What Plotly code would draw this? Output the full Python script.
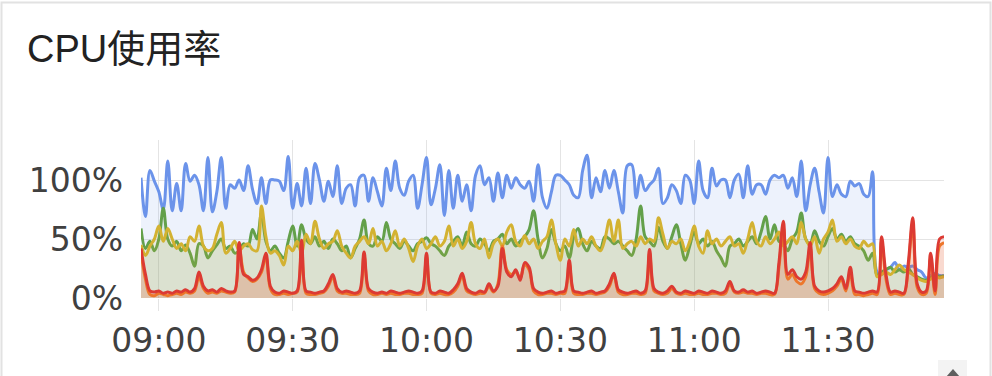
import pandas as pd
import plotly.graph_objects as go

# ---------------- data (1-minute samples, 08:56 -> 11:56) ----------------
start_time = "2024-01-01 08:56"
n_points = 181

blue = [102, 69, 108, 99, 90, 75, 116, 74, 97, 74,
        114, 99, 104, 96, 74, 119, 73, 90, 119, 76,
        96, 93, 100, 91, 112, 92, 80, 102, 80, 100,
        100, 99, 91, 120, 76, 97, 78, 110, 80, 114,
        100, 82, 99, 86, 112, 80, 93, 96, 78, 102,
        104, 82, 102, 90, 78, 110, 91, 116, 93, 87,
        99, 104, 76, 96, 119, 79, 93, 113, 70, 108,
        76, 104, 82, 96, 74, 104, 112, 96, 102, 82,
        106, 85, 104, 93, 102, 96, 93, 99, 82, 113,
        85, 76, 90, 104, 104, 100, 96, 87, 85, 108,
        121, 85, 102, 90, 108, 93, 108, 90, 72, 112,
        113, 85, 104, 91, 96, 100, 110, 80, 85, 96,
        91, 80, 104, 100, 80, 116, 91, 85, 110, 95,
        100, 100, 85, 100, 105, 85, 112, 88, 96, 96,
        88, 100, 104, 102, 104, 93, 102, 86, 116, 74,
        96, 110, 90, 72, 119, 86, 96, 88, 86, 99,
        95, 97, 88, 86, 107, 22, 20, 24, 26, 30,
        24, 27, 26, 27, 24, 22, 17, 19, 21, 19,
        19]

green = [59, 42, 48, 40, 50, 76, 50, 44, 48, 40,
         45, 38, 27, 46, 44, 34, 40, 45, 50, 42,
         44, 38, 40, 46, 44, 58, 50, 72, 48, 40,
         44, 38, 34, 48, 61, 44, 62, 50, 46, 52,
         44, 48, 42, 50, 46, 40, 44, 34, 42, 50,
         66, 46, 44, 52, 48, 64, 50, 46, 42, 48,
         44, 40, 46, 48, 51, 46, 44, 40, 36, 44,
         48, 52, 44, 56, 46, 44, 50, 46, 40, 48,
         50, 54, 46, 50, 44, 48, 52, 58, 74, 50,
         34, 42, 58, 46, 40, 44, 34, 52, 59, 46,
         40, 48, 44, 42, 52, 50, 46, 48, 44, 40,
         36, 50, 78, 52, 48, 44, 60, 48, 42, 52,
         62, 46, 32, 44, 56, 46, 50, 44, 48, 40,
         34, 27, 44, 46, 50, 44, 48, 52, 46, 56,
         69, 50, 62, 48, 46, 40, 50, 56, 72, 50,
         46, 57, 48, 44, 52, 59, 50, 54, 48, 52,
         46, 44, 40, 32, 38, 19, 22, 24, 26, 22,
         24, 22, 25, 20, 18, 16, 15, 17, 20, 18,
         19]

yellow = [45, 36, 44, 50, 61, 48, 59, 50, 42, 46,
          40, 52, 48, 61, 44, 40, 42, 54, 64, 38,
          42, 48, 40, 44, 46, 41, 40, 78, 52, 38,
          40, 36, 28, 44, 40, 48, 38, 54, 46, 65,
          50, 42, 46, 48, 57, 44, 38, 34, 44, 48,
          52, 46, 59, 44, 48, 40, 46, 57, 44, 50,
          42, 31, 44, 50, 42, 46, 52, 44, 48, 61,
          44, 50, 42, 48, 64, 46, 42, 50, 34, 46,
          50, 44, 56, 62, 48, 44, 53, 46, 50, 42,
          48, 52, 66, 46, 32, 50, 44, 58, 44, 50,
          46, 52, 44, 40, 50, 66, 48, 66, 42, 46,
          48, 44, 52, 46, 50, 48, 68, 54, 42, 48,
          46, 50, 40, 48, 61, 44, 38, 57, 46, 50,
          44, 48, 52, 44, 46, 38, 50, 64, 48, 44,
          52, 46, 50, 56, 44, 48, 52, 46, 64, 50,
          44, 52, 38, 50, 56, 66, 48, 52, 46, 50,
          44, 42, 48, 44, 46, 18, 20, 22, 20, 24,
          28, 24, 22, 20, 17, 15, 14, 16, 18, 17,
          18]

orange = [38, 16, 3, 2, 4, 3, 2, 3, 4, 3,
          5, 4, 6, 18, 8, 4, 5, 4, 6, 5,
          4, 5, 44, 22, 17, 14, 16, 22, 35, 8,
          3, 3, 4, 3, 4, 5, 46, 4, 3, 3,
          4, 5, 10, 18, 6, 4, 4, 3, 3, 4,
          36, 6, 3, 3, 4, 3, 4, 3, 3, 4,
          4, 3, 3, 4, 35, 4, 3, 4, 3, 3,
          5, 10, 19, 6, 4, 3, 4, 4, 10, 5,
          12, 44, 24, 20, 22, 17, 28, 24, 6, 3,
          3, 4, 4, 3, 4, 4, 29, 4, 3, 3,
          4, 4, 3, 4, 5, 10, 20, 5, 3, 3,
          4, 4, 3, 4, 38, 6, 4, 3, 4, 8,
          4, 3, 4, 3, 3, 4, 3, 3, 4, 4,
          3, 4, 12, 5, 4, 5, 4, 4, 3, 4,
          4, 3, 3, 26, 60, 16, 20, 14, 12, 18,
          43, 8, 4, 3, 4, 6, 10, 16, 6, 22,
          3, 3, 2, 3, 4, 3, 48, 16, 3, 4,
          3, 3, 26, 64, 9, 3, 4, 34, 3, 44,
          47]

red = [42, 20, 6, 5, 6, 4, 5, 4, 6, 5,
       7, 5, 8, 22, 10, 6, 7, 5, 8, 6,
       5, 6, 47, 20, 18, 15, 17, 24, 38, 10,
       5, 4, 6, 5, 4, 6, 49, 6, 5, 4,
       5, 6, 12, 20, 8, 5, 6, 5, 4, 6,
       39, 8, 5, 4, 5, 4, 6, 5, 4, 5,
       6, 5, 4, 6, 38, 5, 4, 6, 5, 4,
       7, 12, 21, 8, 5, 4, 6, 5, 12, 6,
       10, 42, 22, 18, 24, 15, 30, 26, 8, 5,
       4, 5, 6, 4, 5, 6, 32, 6, 5, 4,
       5, 6, 4, 5, 6, 12, 21, 7, 5, 4,
       5, 6, 4, 6, 41, 8, 5, 4, 6, 10,
       5, 4, 6, 5, 4, 6, 5, 4, 6, 5,
       4, 6, 14, 6, 5, 7, 5, 6, 4, 5,
       6, 5, 4, 30, 65, 20, 24, 18, 16, 22,
       47, 10, 6, 5, 6, 8, 12, 18, 8, 26,
       6, 5, 4, 5, 6, 5, 52, 20, 5, 6,
       5, 4, 30, 68, 12, 5, 6, 38, 6, 50,
       52]

y_tick_vals = [0, 50, 100]
y_tick_text = ["0%", "50%", "100%"]
title_text = "CPU使用率"

series = [
    ("blue", blue, "#6b93ea", "rgba(107,147,234,0.12)"),
    ("green", green, "#63a04a", "rgba(99,160,74,0.12)"),
    ("yellow", yellow, "#d3b232", "rgba(211,178,50,0.12)"),
    ("orange", orange, "#f07f2a", "rgba(240,127,42,0.12)"),
    ("red", red, "#dc3a33", "rgba(220,58,51,0.12)"),
]

times = pd.date_range(start_time, periods=n_points, freq="1min")

# ---------------- layout geometry (pixels) ----------------
W, H = 992, 376
L, R, T, B = 141, 48, 140, 78
pw, ph = W - L - R, H - T - B


def px(x):
    return (x - L) / pw


def py(y):
    return (H - B - y) / ph


fig = go.Figure()
for name, vals, col, fillcol in series:
    fig.add_trace(go.Scatter(
        x=times, y=vals, name=name, mode="lines",
        line=dict(color=col, width=3, shape="spline", smoothing=1.0),
        fill="tozeroy", fillcolor=fillcol, hoverinfo="skip",
    ))

tick_font = dict(family="DejaVu Sans, Liberation Sans, sans-serif", size=33, color="#404040")

fig.update_layout(
    width=W, height=H,
    margin=dict(l=L, r=R, t=T, b=B, pad=0),
    paper_bgcolor="white", plot_bgcolor="white",
    showlegend=False,
    title=dict(text=title_text, x=27 / W, xanchor="left", xref="container",
               y=1 - 49 / H, yanchor="middle", yref="container",
               font=dict(family="Liberation Sans, Noto Sans CJK SC, sans-serif", size=38, color="#222222")),
    xaxis=dict(
        range=[times[0], times[-1]],
        tickformat="%H:%M", dtick=30 * 60 * 1000, tick0="2024-01-01 09:00",
        showgrid=True, gridcolor="#e4e4e4", gridwidth=1,
        ticks="outside", ticklen=12, tickcolor="#e4e4e4", tickwidth=1,
        showline=False, zeroline=False, tickfont=tick_font,
        ticklabelstandoff=1,
    ),
    yaxis=dict(
        range=[0, ph / 1.18],
        tickvals=y_tick_vals, ticktext=y_tick_text,
        showgrid=True, gridcolor="#e4e4e4", gridwidth=1,
        zeroline=False, showline=False, ticks="", tickfont=tick_font,
        ticklabelstandoff=17,
    ),
    shapes=[
        dict(type="rect", xref="paper", yref="paper",
             x0=px(1.5), x1=px(990.5), y0=py(390), y1=py(2.5),
             line=dict(color="#e2e2e2", width=2), fillcolor="rgba(0,0,0,0)", layer="below"),
        dict(type="rect", xref="paper", yref="paper",
             x0=px(938), x1=px(967), y0=py(378), y1=py(360),
             line=dict(width=0), fillcolor="#f3f3f3", layer="above"),
        dict(type="path", xref="paper", yref="paper",
             path=f"M {px(946)},{py(377)} L {px(953)},{py(369)} L {px(960)},{py(377)} Z",
             line=dict(width=0), fillcolor="#5f5f5f", layer="above"),
    ],
)

fig.write_html("out.html")
